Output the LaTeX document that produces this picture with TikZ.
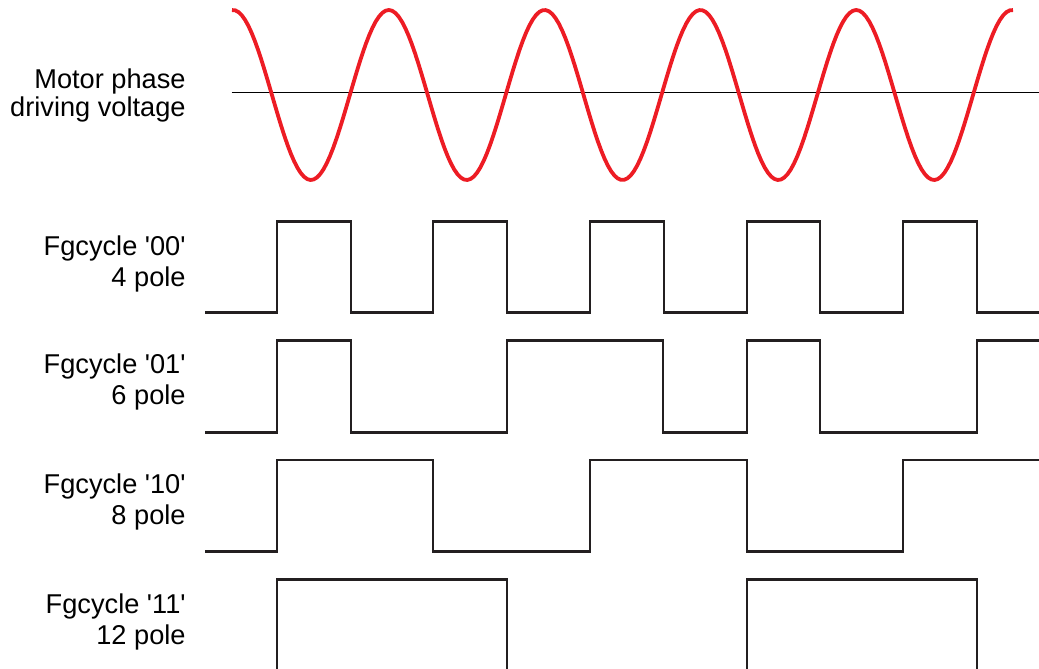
\documentclass[tikz,border=0pt]{standalone}
\usepackage{fontspec}
\setmainfont{Liberation Sans}
\usepackage{tikz}
\usetikzlibrary{positioning}
\definecolor{Trace}{HTML}{231F20}
\definecolor{Drive}{HTML}{ED1C24}
\newcommand{\sq}{\textquotesingle}
\tikzset{
 siglabel/.style={anchor=north east,align=right,inner sep=0pt,
   font=\fontsize{13.6}{15.7}\selectfont},
 pulse/.style={draw=Trace,line width=1.25pt,line join=miter},
 drive/.style={draw=Drive,line width=1.9pt,line join=round},
 zero/.style={draw=black,line width=0.6pt}
}
\begin{document}
\begin{tikzpicture}[x=0.5pt,y=-0.5pt]
\useasboundingbox (0,0) rectangle (1039,669);
\clip (0,0) rectangle (1039,669);
% labels
\node[siglabel,font=\fontsize{13.6}{13.9}\selectfont] (drv) at (186,68.5) {Motor phase\\driving voltage};
\node[siglabel] (fg00) at (186,235) {Fgcycle \sq00\sq\\4 pole};
\node[siglabel] (fg01) at (186,353) {Fgcycle \sq01\sq\\6 pole};
\node[siglabel] (fg10) at (186,473) {Fgcycle \sq10\sq\\8 pole};
\node[siglabel] (fg11) at (186,593) {Fgcycle \sq11\sq\\12 pole};
% phase voltage
\draw[zero] (231.5,92.5) -- (1039,92.5);
\draw[drive] plot[domain=232:1013,samples=240] (\x,{95-85*cos(2.31065*(\x-233))});
% FG outputs
\draw[pulse] (205,312.7) -| (277,221.7) -| (351,312.7) -| (433,221.7) -| (507,312.7)
  -| (590,221.7) -| (664,312.7) -| (747,221.7) -| (820,312.7) -| (903,221.7)
  -| (977,312.7) -- (1039,312.7);
\draw[pulse] (205,432.3) -| (277,340.7) -| (351,432.3) -| (507,340.7) -| (663,432.3)
  -| (747,340.7) -| (820,432.3) -| (977,340.7) -- (1039,340.7);
\draw[pulse] (205,551.7) -| (277,460) -| (433,551.7) -| (590,460) -| (747,551.7)
  -| (903,460) -- (1039,460);
\draw[pulse] (205,673) -| (277,579.5) -| (507,673) -| (747,579.5) -| (977,673) -- (1039,673);
\end{tikzpicture}
\end{document}
